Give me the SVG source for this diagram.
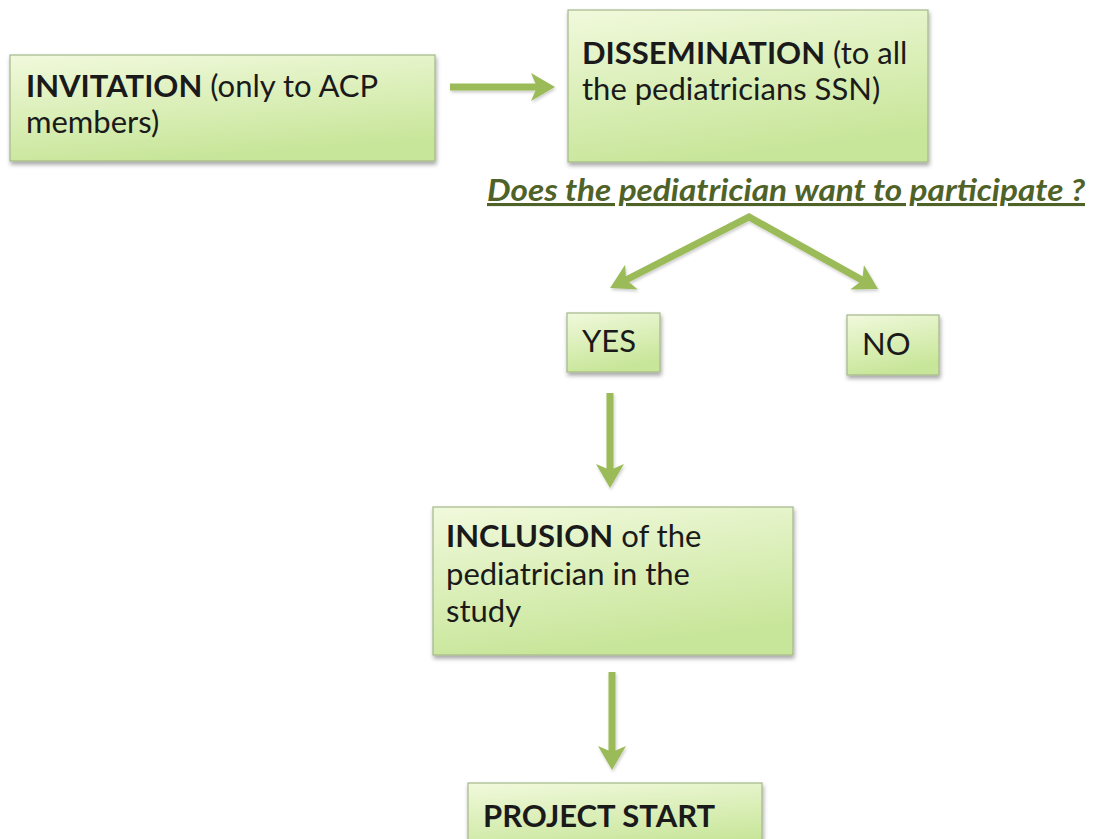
<svg xmlns="http://www.w3.org/2000/svg" width="1093" height="839" viewBox="0 0 1093 839">
<style>
.box{fill:url(#g);stroke:#a3b889;stroke-width:1.2;filter:url(#sh)}
.t{font-family:Lato,"Liberation Sans",sans-serif;font-size:31px;fill:#1a1a1a}
.b{font-weight:bold}
.q{font-family:Lato,"Liberation Sans",sans-serif;font-size:31px;font-weight:bold;font-style:italic;fill:#4f6228;text-decoration:underline}
.ar{stroke:#9bbb59;stroke-width:7;fill:none;stroke-linejoin:miter}
.hd{fill:#9bbb59}
</style>
<defs>
<linearGradient id="g" x1="0" y1="0" x2="0.3" y2="1">
<stop offset="0" stop-color="#f1f9dc"/>
<stop offset="1" stop-color="#c8e69a"/>
</linearGradient>
<filter id="sh" x="-10%" y="-10%" width="125%" height="135%">
<feDropShadow dx="1" dy="3" stdDeviation="2" flood-color="#000" flood-opacity="0.35"/>
</filter>
<filter id="sa" filterUnits="userSpaceOnUse" x="0" y="0" width="1093" height="839">
<feDropShadow dx="1" dy="2" stdDeviation="1.5" flood-color="#000" flood-opacity="0.2"/>
</filter>
<marker id="ah" markerUnits="userSpaceOnUse" markerWidth="30" markerHeight="30" refX="14" refY="14" orient="auto-start-reverse">
<path d="M0,0 L24,14 L0,28 L6,14 Z" class="hd"/>
</marker>
</defs>

<g id="connectors" filter="url(#sa)">
<line class="ar" x1="450" y1="87" x2="545" y2="87" marker-end="url(#ah)"/>
<polyline class="ar" points="619,283.5 749,217 869.3,284.1" marker-start="url(#ah)" marker-end="url(#ah)"/>
<line class="ar" x1="610" y1="393" x2="610" y2="478" marker-end="url(#ah)"/>
<line class="ar" x1="612" y1="672" x2="612" y2="760" marker-end="url(#ah)"/>
</g>

<g id="invitation">
<rect class="box" x="10" y="55" width="425" height="106"/>
<text class="t" x="26" y="97"><tspan class="b">INVITATION</tspan> (only to ACP</text>
<text class="t" x="26" y="133">members)</text>
</g>

<g id="dissemination">
<rect class="box" x="568" y="10" width="360" height="152"/>
<text class="t" x="582" y="64"><tspan class="b">DISSEMINATION</tspan> (to all</text>
<text class="t" x="582" y="100">the pediatricians SSN)</text>
</g>

<g id="question">
<text class="q" x="487" y="201" textLength="598" lengthAdjust="spacingAndGlyphs">Does the pediatrician want to participate ?</text>
</g>

<g id="yes">
<rect class="box" x="567" y="313" width="93" height="59"/>
<text class="t" x="582" y="352">YES</text>
</g>

<g id="no">
<rect class="box" x="847" y="315" width="92" height="60"/>
<text class="t" x="862" y="355">NO</text>
</g>

<g id="inclusion">
<rect class="box" x="433" y="507" width="360" height="148"/>
<text class="t" x="446" y="547"><tspan class="b">INCLUSION</tspan> of the</text>
<text class="t" x="446" y="585">pediatrician in the</text>
<text class="t" x="446" y="622">study</text>
</g>

<g id="project-start">
<rect class="box" x="468" y="783" width="294" height="70"/>
<text class="t b" x="483" y="827">PROJECT START</text>
</g>
</svg>
